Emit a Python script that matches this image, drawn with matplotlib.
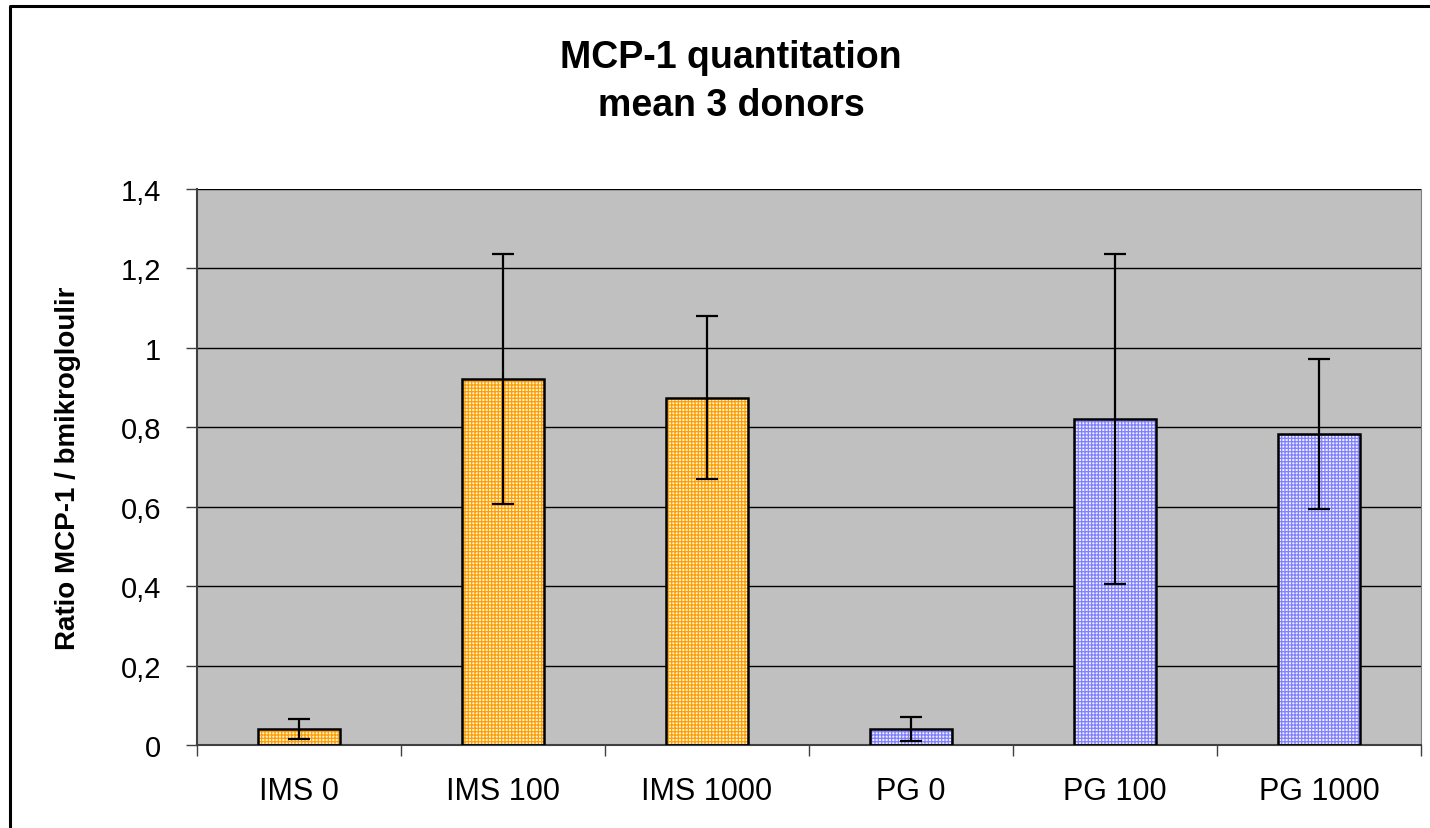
import matplotlib.pyplot as plt
import numpy as np
from matplotlib.lines import Line2D

categorie = ["IMS 0", "IMS 100", "IMS 1000", "PG 0", "PG 100", "PG 1000"]
medie = [0.040, 0.922, 0.874, 0.040, 0.821, 0.783]
errori = [0.026, 0.315, 0.205, 0.031, 0.415, 0.190]
yTicks = [0, 0.2, 0.4, 0.6, 0.8, 1.0, 1.2, 1.4]
yTickLabels = ["0", "0,2", "0,4", "0,6", "0,8", "1", "1,2", "1,4"]

plt.rcParams['font.family'] = ['Liberation Sans', 'DejaVu Sans']
plt.rcParams['hatch.linewidth'] = 0.9

fig = plt.figure(figsize=(14.3, 8.29), dpi=100)
ax = fig.add_axes([197/1430, 83/829, 1224/1430, 556/829])
ax.set_facecolor("#C0C0C0")

# cornice della figura: solo lato superiore e sinistro sono visibili
xb = 10/1430
yb = 1 - 7/829
fig.lines.append(Line2D([xb, xb, 1.0], [0.0, yb, yb], transform=fig.transFigure,
                        color="black", linewidth=2.2))

x = np.arange(len(categorie))
colHatch = ["#FF9E00"] * 3 + ["#8080FF"] * 3
colFondo = ["#FFF2D8"] * 3 + ["#EEEEFF"] * 3

ax.bar(x, medie, width=0.4, color=colFondo, edgecolor=colHatch, hatch="+++++", linewidth=0, zorder=2)
ax.bar(x, medie, width=0.4, fill=False, edgecolor="black", linewidth=1.8, zorder=3)
ax.errorbar(x, medie, yerr=errori, fmt="none", ecolor="black", elinewidth=1.6, capsize=8,
            capthick=1.6, zorder=4)

ax.set_xlim(-0.5, len(categorie) - 0.5)
ax.set_ylim(0, 1.4)
ax.set_yticks(yTicks)
ax.set_yticklabels(yTickLabels, fontsize=21)
ax.yaxis.grid(True, color="black", linewidth=1)
ax.set_axisbelow(True)

ax.set_xticks(x)
ax.set_xticklabels(categorie, fontsize=22)
ax.tick_params(axis="x", length=0, pad=22)
ax.set_xticks(np.arange(-0.5, len(categorie)), minor=True)
ax.tick_params(axis="x", which="minor", length=8, width=1, color="#404040")
ax.tick_params(axis="y", length=8, width=1, color="#404040", pad=18)

ax.spines["top"].set_visible(False)
ax.spines["right"].set_color("#808080")
ax.spines["left"].set_color("#404040")
ax.spines["bottom"].set_color("#404040")
ax.spines["left"].set_linewidth(1.5)
ax.spines["bottom"].set_linewidth(1.5)

ax.set_ylabel("Ratio MCP-1 / bmikrogloulir", fontsize=20, fontweight="bold", labelpad=28)
fig.text(731/1430, 1 - 82/829, "MCP-1 quantitation\nmean 3 donors", ha="center", va="center",
         fontsize=27, fontweight="bold", linespacing=1.4)

plt.savefig("out.png")
